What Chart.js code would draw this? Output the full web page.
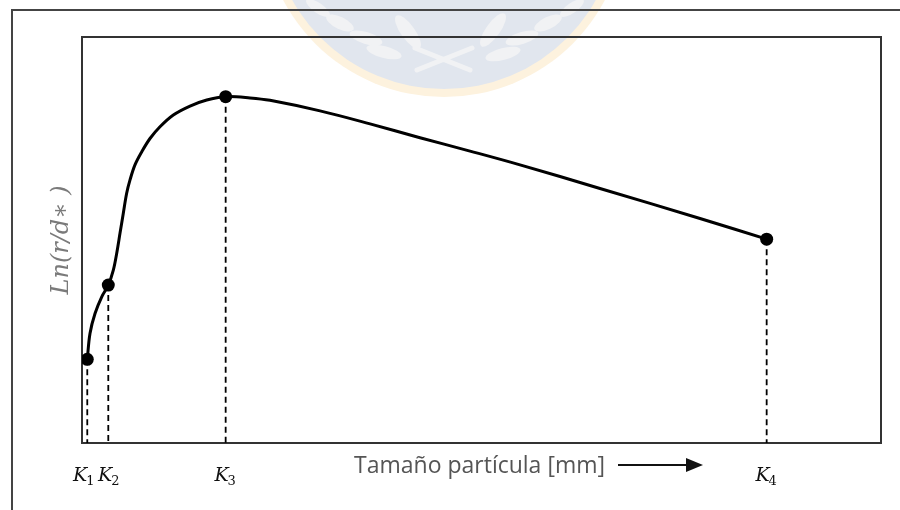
<!DOCTYPE html>
<html>
<head>
<meta charset="utf-8">
<script src="https://cdn.jsdelivr.net/npm/chart.js@4.4.1/dist/chart.umd.min.js"></script>
<style>
  html, body { margin: 0; padding: 0; background: #ffffff; }
  #wrap { width: 900px; height: 510px; }
</style>
</head>
<body>
<div id="wrap"><canvas id="c" width="900" height="510"></canvas></div>
<script>
// Characteristic particle sizes K1..K4 (x) and the curve value at each (y), in plot units 0-100
const kNames = ['1', '2', '3', '4'];
const kX = [0.66, 3.29, 17.98, 85.69];
const kY = [20.6, 38.9, 85.3, 50.2];

// Points along the Ln(r/d*) curve read across the particle-size range
const curveX = [0.66, 1.00, 1.63, 2.47, 3.29, 3.92, 4.34, 4.76, 5.17, 5.59, 6.01, 6.63,
                7.47, 8.51, 9.76, 11.43, 13.52, 15.61, 17.98,
                21.03, 23.53, 29.79, 36.05, 42.30, 48.56, 54.82, 64.83, 77.35, 85.69];
const curveY = [20.6, 27.0, 31.9, 36.0, 38.9, 42.6, 46.7, 51.7, 56.6, 61.5, 64.8, 68.5,
                71.7, 75.0, 77.9, 80.8, 83.0, 84.5, 85.3,
                85.0, 84.4, 81.8, 78.6, 75.2, 71.9, 68.5, 62.7, 55.3, 50.2];

// Axis captions
const xTitle = 'Tamaño partícula [mm]';
const yTitle = 'Ln(r/d\u2217 )';

const curveData = curveX.map((x, i) => ({ x, y: curveY[i] }));
const markerData = kX.map((x, i) => ({ x, y: kY[i] }));
const dropLines = kX.map((x, i) => ({
  type: 'scatter',
  data: [{ x, y: kY[i] }, { x, y: 0 }],
  showLine: true,
  borderColor: '#000000',
  borderWidth: 1.8,
  borderDash: [6, 4],
  pointRadius: 0,
  tension: 0,
  fill: false
}));

// Background, faint seal, frames and the hand-placed captions
const decor = {
  id: 'decor',
  beforeDraw(chart) {
    const ctx = chart.ctx;
    ctx.save();
    ctx.fillStyle = '#ffffff';
    ctx.fillRect(0, 0, chart.width, chart.height);

    // faint seal at the top
    ctx.beginPath();
    ctx.arc(444, -85, 182, 0, Math.PI * 2);
    ctx.fillStyle = '#fdf2de';
    ctx.fill();
    ctx.beginPath();
    ctx.arc(444, -85, 174, 0, Math.PI * 2);
    ctx.fillStyle = '#e1e6ee';
    ctx.fill();
    ctx.fillStyle = '#f1f2f4';
    const leaves = [
      [340, 23, 15, 6, 0.45], [366, 38, 17, 6, 0.3], [384, 52, 18, 6, 0.25],
      [408, 32, 20, 7, 0.95], [318, 8, 14, 5, 0.6],
      [548, 23, 15, 6, -0.45], [522, 38, 17, 6, -0.3], [503, 54, 18, 6, -0.25],
      [493, 30, 20, 7, -0.95], [572, 8, 14, 5, -0.6]
    ];
    leaves.forEach(l => {
      ctx.beginPath();
      ctx.ellipse(l[0], l[1], l[2], l[3], l[4], 0, Math.PI * 2);
      ctx.fill();
    });
    ctx.strokeStyle = '#f1f2f4';
    ctx.lineWidth = 5;
    ctx.lineCap = 'round';
    ctx.beginPath();
    ctx.moveTo(415, 48); ctx.lineTo(470, 70);
    ctx.moveTo(472, 48); ctx.lineTo(417, 70);
    ctx.stroke();

    // outer frame
    ctx.strokeStyle = '#444444';
    ctx.lineWidth = 2;
    ctx.lineCap = 'butt';
    ctx.beginPath();
    ctx.moveTo(12, 520); ctx.lineTo(12, 10); ctx.lineTo(910, 10);
    ctx.stroke();

    // plot box
    const a = chart.chartArea;
    ctx.strokeStyle = '#333333';
    ctx.lineWidth = 2;
    ctx.strokeRect(a.left, a.top, a.right - a.left, a.bottom - a.top);
    ctx.restore();
  },
  afterDraw(chart) {
    const ctx = chart.ctx;
    const xs = chart.scales.x;
    const ys = chart.scales.y;
    ctx.save();

    // K labels under each drop line
    ctx.fillStyle = '#111111';
    ctx.textBaseline = 'alphabetic';
    const kFont = 'italic 19px "DejaVu Serif"';
    const sFont = '13px "DejaVu Serif"';
    kX.forEach((v, i) => {
      const px = xs.getPixelForValue(v);
      ctx.font = kFont;
      const wK = ctx.measureText('K').width;
      ctx.font = sFont;
      const wS = ctx.measureText(kNames[i]).width;
      let left = px - (wK + wS) / 2;
      if (i === 0) left -= 3;
      if (i === 1) left += 1;
      ctx.font = kFont;
      ctx.fillText('K', left, 481);
      ctx.font = sFont;
      ctx.fillText(kNames[i], left + wK - 1, 485);
    });

    // x caption with arrow
    ctx.fillStyle = '#555555';
    ctx.font = '23px "Open Sans"';
    ctx.textAlign = 'left';
    ctx.fillText(xTitle, 354, 473);
    ctx.strokeStyle = '#111111';
    ctx.fillStyle = '#111111';
    ctx.lineWidth = 2.2;
    ctx.beginPath();
    ctx.moveTo(618, 465); ctx.lineTo(688, 465);
    ctx.stroke();
    ctx.beginPath();
    ctx.moveTo(703, 465); ctx.lineTo(686, 458); ctx.lineTo(686, 472);
    ctx.closePath();
    ctx.fill();

    // y caption, rotated
    const cy = (ys.top + ys.bottom) / 2;
    ctx.translate(68, cy);
    ctx.rotate(-Math.PI / 2);
    ctx.fillStyle = '#7a7a7a';
    ctx.font = 'italic 24px "DejaVu Serif"';
    ctx.textAlign = 'center';
    ctx.fillText(yTitle, 0, 0);
    ctx.restore();
  }
};

new Chart(document.getElementById('c'), {
  type: 'scatter',
  data: {
    datasets: [
      {
        data: markerData,
        showLine: false,
        pointRadius: 6.5,
        pointBackgroundColor: '#000000',
        pointBorderColor: '#000000',
        pointBorderWidth: 0
      },
      {
        data: curveData,
        showLine: true,
        tension: 0.35,
        borderColor: '#000000',
        borderWidth: 3,
        pointRadius: 0,
        fill: false
      },
      ...dropLines
    ]
  },
  options: {
    responsive: false,
    devicePixelRatio: 1,
    animation: false,
    layout: { padding: { left: 82, top: 37, right: 19, bottom: 67 } },
    plugins: { legend: { display: false }, tooltip: { enabled: false } },
    scales: {
      x: { type: 'linear', min: 0, max: 100, display: false },
      y: { type: 'linear', min: 0, max: 100, display: false }
    }
  },
  plugins: [decor]
});
</script>
</body>
</html>
